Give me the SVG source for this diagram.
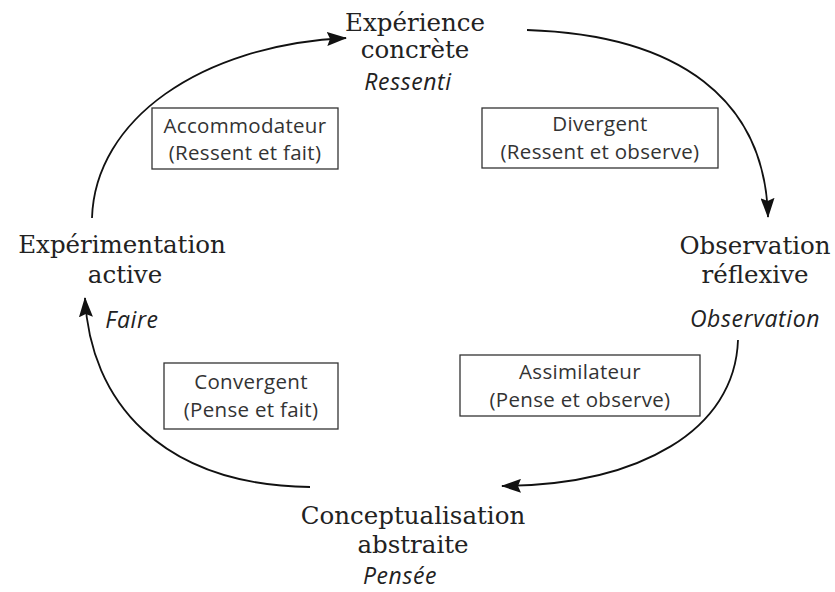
<svg xmlns="http://www.w3.org/2000/svg" width="835" height="592" viewBox="0 0 835 592">
<defs>
<marker id="ah" markerWidth="20" markerHeight="14" refX="19" refY="7" orient="auto" markerUnits="userSpaceOnUse">
<path d="M0,0 L20,7 L0,14 L3,7 Z" fill="#111"/>
</marker>
<style>
.stage{font-family:"DejaVu Serif","Liberation Serif",serif;font-size:24.5px;fill:#222;text-anchor:middle}
.mode{font-family:"Open Sans","Liberation Sans",sans-serif;font-style:italic;font-size:23px;letter-spacing:0.6px;fill:#222;text-anchor:middle}
.box rect{fill:#fff;stroke:#333;stroke-width:1.3}
.box text{font-family:"Open Sans","Liberation Sans",sans-serif;font-size:20.5px;letter-spacing:0.3px;fill:#333;text-anchor:middle}
.arc{fill:none;stroke:#111;stroke-width:1.8;marker-end:url(#ah)}
</style>
</defs>
<rect width="835" height="592" fill="#fff"/>
<g id="connectors">
<path class="arc" d="M92,218 C95,120 200,45 346,38"/>
<path class="arc" d="M527,30 C680,35 765,100 768,217"/>
<path class="arc" d="M738,340 C735,430 640,485 502,486"/>
<path class="arc" d="M310,487 C160,485 90,400 85,298"/>
</g>
<g id="experience">
<text class="stage" x="415" y="31">Expérience</text>
<text class="stage" x="415" y="58">concrète</text>
<text class="mode" x="408" y="90">Ressenti</text>
</g>
<g id="observation">
<text class="stage" x="755" y="254">Observation</text>
<text class="stage" x="755" y="283">réflexive</text>
<text class="mode" x="755" y="327">Observation</text>
</g>
<g id="conceptualisation">
<text class="stage" x="413" y="524">Conceptualisation</text>
<text class="stage" x="413" y="553">abstraite</text>
<text class="mode" x="400" y="584">Pensée</text>
</g>
<g id="experimentation">
<text class="stage" x="122" y="253">Expérimentation</text>
<text class="stage" x="125" y="283">active</text>
<text class="mode" x="132" y="328">Faire</text>
</g>
<g id="accommodateur" class="box">
<rect x="152" y="108" width="186" height="61"/>
<text x="245" y="133">Accommodateur</text>
<text x="245" y="160">(Ressent et fait)</text>
</g>
<g id="divergent" class="box">
<rect x="482" y="108" width="236" height="60"/>
<text x="600" y="131">Divergent</text>
<text x="600" y="159">(Ressent et observe)</text>
</g>
<g id="convergent" class="box">
<rect x="164" y="363" width="174" height="66"/>
<text x="251" y="389">Convergent</text>
<text x="251" y="417">(Pense et fait)</text>
</g>
<g id="assimilateur" class="box">
<rect x="460" y="355" width="240" height="61"/>
<text x="580" y="379">Assimilateur</text>
<text x="580" y="407">(Pense et observe)</text>
</g>
</svg>
